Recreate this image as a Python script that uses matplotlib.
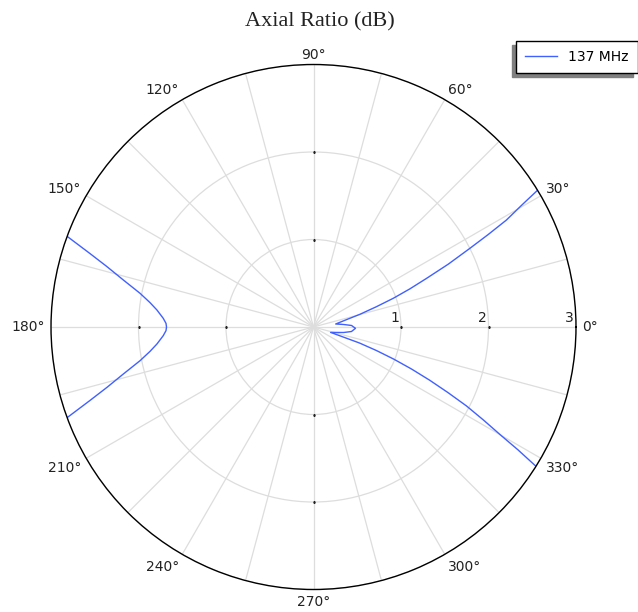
import numpy as np
import matplotlib
matplotlib.use("Agg")
import matplotlib.pyplot as plt

# Axial ratio (dB) vs. angle, 137 MHz
right_theta_deg = [31.4, 30.3, 29.0, 27.9, 26.7, 25.0, 23.3, 21.6, 19.8, 17.9, 15.3,
                   12.9, 7.7, 4.8, 2.3, -1.8, -6.8, -10.4, -17.5, -18.7, -19.2,
                   -20.5, -21.8, -23.2, -24.6, -26.0, -27.3, -28.7, -30.0, -31.0,
                   -32.05]
right_ar_db = [3.0, 2.75, 2.52, 2.26, 2.00, 1.70, 1.41, 1.186, 0.97, 0.757, 0.55,
               0.40, 0.256, 0.344, 0.435, 0.48, 0.437, 0.349, 0.205, 0.374, 0.557,
               0.768, 0.985, 1.218, 1.458, 1.71, 1.968, 2.215, 2.468, 2.727,
               3.0]

left_theta_deg = [159.8, 161.8, 163.7, 166.1, 169.0, 171.5, 173.8, 176.7, 178.6,
                  180.0, 181.4, 183.3, 186.2, 188.5, 191.0, 193.9, 196.3, 198.2,
                  200.2]
left_ar_db = [3.0, 2.69, 2.46, 2.24, 2.02, 1.89, 1.80, 1.72, 1.686,
              1.68, 1.686, 1.72, 1.80, 1.89, 2.02, 2.24, 2.46, 2.69,
              3.0]

series_label = "137 MHz"
title_text = "Axial Ratio (dB)"

theta_grid_deg = list(range(0, 360, 15))
theta_label_deg = list(range(0, 360, 30))
r_ticks = [1, 2, 3]
r_max = 3

line_color = "#4060ff"
grid_color = "#dddddd"
text_color = "#222222"

fig = plt.figure(figsize=(6.38, 6.12), dpi=100)
ax = fig.add_axes([51 / 638, 22.5 / 612, 525 / 638, 525 / 612], projection="polar")

ax.plot(np.deg2rad(right_theta_deg), right_ar_db, color=line_color, lw=1.0,
        label=series_label)
ax.plot(np.deg2rad(left_theta_deg), left_ar_db, color=line_color, lw=1.0)

ax.set_ylim(0, r_max)
ax.set_xticks(np.deg2rad(theta_grid_deg), [""] * len(theta_grid_deg))
ax.set_yticks(r_ticks)
ax.set_yticklabels([])
ax.tick_params(axis="both", length=0)
ax.grid(True, color=grid_color, lw=0.9)
ax.spines["polar"].set_color("black")
ax.spines["polar"].set_linewidth(1.0)

# angle labels just outside the rim, aligned away from the centre
gap_pt = 4.3
for d in theta_label_deg:
    a = np.deg2rad(d)
    c, s = np.cos(a), np.sin(a)
    ha = "center" if abs(c) < 0.01 else ("left" if c > 0 else "right")
    va = "center" if abs(s) < 0.01 else ("baseline" if s > 0 else "top")
    ax.annotate(f"{d}°", xy=(a, r_max), xytext=(gap_pt * c, gap_pt * s),
                textcoords="offset points", ha=ha, va=va, fontsize=10,
                color=text_color, annotation_clip=False)

# small tick dots on the four cardinal spokes
for d in (0, 90, 180, 270):
    ax.plot(np.deg2rad([d] * (len(r_ticks) - 1)), r_ticks[:-1], ls="none",
            marker="s", ms=1.1, mew=0.4, color=text_color, zorder=3)

# radial tick labels just above the 0° spoke
for r in r_ticks:
    ax.annotate(str(r), xy=(0, r), xytext=(-1.5, 3.5), textcoords="offset points",
                ha="right", va="baseline", fontsize=10, color=text_color,
                annotation_clip=False)

fig.text(320 / 638, 1 - 22 / 612, title_text, ha="center", va="center",
         fontsize=16, family="Liberation Serif", color=text_color)

handles, labels = ax.get_legend_handles_labels()
leg = fig.legend(handles, labels, loc="upper left",
                 bbox_to_anchor=(516 / 638, 1 - 41 / 612), fontsize=10,
                 fancybox=False, framealpha=1, edgecolor="black",
                 handlelength=2.3, borderaxespad=0, borderpad=0.65,
                 shadow={"ox": -3, "oy": -3, "facecolor": "#808080",
                         "edgecolor": "#808080", "alpha": 1})
leg.get_frame().set_linewidth(1.0)

fig.savefig("out.png", dpi=100)
